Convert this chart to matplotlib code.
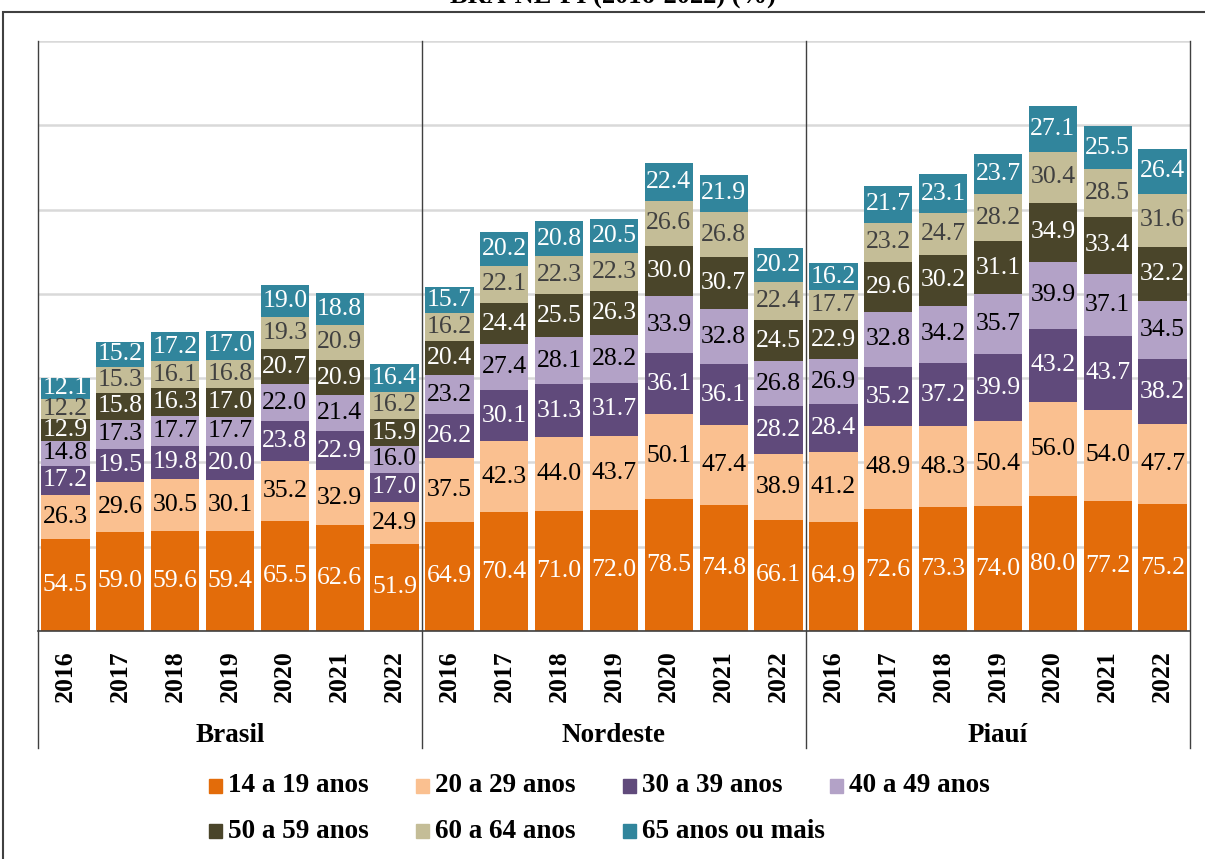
import numpy as np
import matplotlib
matplotlib.use("Agg")
from matplotlib import pyplot as plt
from matplotlib.patches import Rectangle
import matplotlib.transforms as mtransforms

plt.rcParams['font.family'] = ['Liberation Serif', 'DejaVu Serif']

# dados
regioes = ["Brasil", "Nordeste", "Piauí"]
anos = ["2016", "2017", "2018", "2019", "2020", "2021", "2022"]
faixas = ["14 a 19 anos", "20 a 29 anos", "30 a 39 anos", "40 a 49 anos",
          "50 a 59 anos", "60 a 64 anos", "65 anos ou mais"]

brasil = [
    [54.5, 59.0, 59.6, 59.4, 65.5, 62.6, 51.9],
    [26.3, 29.6, 30.5, 30.1, 35.2, 32.9, 24.9],
    [17.2, 19.5, 19.8, 20.0, 23.8, 22.9, 17.0],
    [14.8, 17.3, 17.7, 17.7, 22.0, 21.4, 16.0],
    [12.9, 15.8, 16.3, 17.0, 20.7, 20.9, 15.9],
    [12.2, 15.3, 16.1, 16.8, 19.3, 20.9, 16.2],
    [12.1, 15.2, 17.2, 17.0, 19.0, 18.8, 16.4],
]
nordeste = [
    [64.9, 70.4, 71.0, 72.0, 78.5, 74.8, 66.1],
    [37.5, 42.3, 44.0, 43.7, 50.1, 47.4, 38.9],
    [26.2, 30.1, 31.3, 31.7, 36.1, 36.1, 28.2],
    [23.2, 27.4, 28.1, 28.2, 33.9, 32.8, 26.8],
    [20.4, 24.4, 25.5, 26.3, 30.0, 30.7, 24.5],
    [16.2, 22.1, 22.3, 22.3, 26.6, 26.8, 22.4],
    [15.7, 20.2, 20.8, 20.5, 22.4, 21.9, 20.2],
]
piaui = [
    [64.9, 72.6, 73.3, 74.0, 80.0, 77.2, 75.2],
    [41.2, 48.9, 48.3, 50.4, 56.0, 54.0, 47.7],
    [28.4, 35.2, 37.2, 39.9, 43.2, 43.7, 38.2],
    [26.9, 32.8, 34.2, 35.7, 39.9, 37.1, 34.5],
    [22.9, 29.6, 30.2, 31.1, 34.9, 33.4, 32.2],
    [17.7, 23.2, 24.7, 28.2, 30.4, 28.5, 31.6],
    [16.2, 21.7, 23.1, 23.7, 27.1, 25.5, 26.4],
]

cores = ["#E36C0A", "#FAC090", "#604A7B", "#B3A2C7", "#4A452A", "#C4BD97", "#31859C"]
cores_txt = ["white", "black", "white", "black", "white", "#404040", "white"]

valores = np.hstack([np.array(brasil), np.array(nordeste), np.array(piaui)])
n = valores.shape[1]
x = np.arange(n)

W, H = 1205, 859
fig = plt.figure(figsize=(W / 100, H / 100), dpi=100)
ax = fig.add_axes([38 / W, 1 - 631 / H, (1190 - 38) / W, (631 - 41) / H])

base = np.zeros(n)
for i in range(len(faixas)):
    ax.bar(x, valores[i], bottom=base, width=0.88, color=cores[i],
           label=faixas[i], zorder=3)
    for j in range(n):
        ax.text(x[j], base[j] + valores[i][j] / 2, "%.1f" % valores[i][j],
                ha="center", va="center", color=cores_txt[i], fontsize=18.5,
                zorder=4)
    base = base + valores[i]

ax.set_xlim(-0.5, n - 0.5)
ax.set_ylim(0, 350)
ax.set_yticks(np.arange(0, 351, 50))
ax.yaxis.grid(True, color="#D9D9D9", linewidth=1.8, zorder=0)
ax.tick_params(axis="y", length=0, labelleft=False)
ax.tick_params(axis="x", length=0, pad=14)
for s in ["top", "right", "left"]:
    ax.spines[s].set_visible(False)
ax.spines["bottom"].set_color("#404040")
ax.spines["bottom"].set_linewidth(1.2)
ax.spines["bottom"].set_zorder(5)

ax.set_xticks(x)
ax.set_xticklabels(anos * 3, rotation=90, fontsize=18.5, fontweight="bold")

# separadores de grupos e rótulos das regiões
trans = mtransforms.blended_transform_factory(ax.transData, ax.transAxes)
y_baixo = -(748 - 631) / (631 - 41)
for xs in [-0.5, 6.5, 13.5, 20.5]:
    ax.plot([xs, xs], [y_baixo, 1], color="#404040", linewidth=1.0,
            transform=trans, clip_on=False, zorder=5)
for k, r in enumerate(regioes):
    ax.text(k * 7 + 3, -(735 - 631) / (631 - 41), r, transform=trans,
            ha="center", va="center", fontsize=19.5, fontweight="bold")

# moldura externa
fig.patches.append(Rectangle((3 / W, -0.01), 1.02, 1 - 12 / H + 0.01,
                             transform=fig.transFigure, fill=False,
                             edgecolor="#404040", linewidth=1.5))

# título (cortado no topo)
fig.text(613 / W, 1 + 3 / H, "BRA-NE-PI (2016-2022) (%)", ha="center", va="center",
         fontsize=19, fontweight="bold")

# legenda desenhada à mão (posições fixas como no original)
for k, lab in enumerate(faixas):
    lin, col = k // 4, k % 4
    xl = 209 + 207 * col
    yl = 786 + 45 * lin
    fig.patches.append(Rectangle((xl / W, 1 - (yl + 7) / H), 13 / W, 14 / H,
                                 transform=fig.transFigure, color=cores[k]))
    fig.text((xl + 19) / W, 1 - yl / H, lab, ha="left", va="center",
             fontsize=19.5, fontweight="bold")

fig.savefig("out.png", dpi=100)
